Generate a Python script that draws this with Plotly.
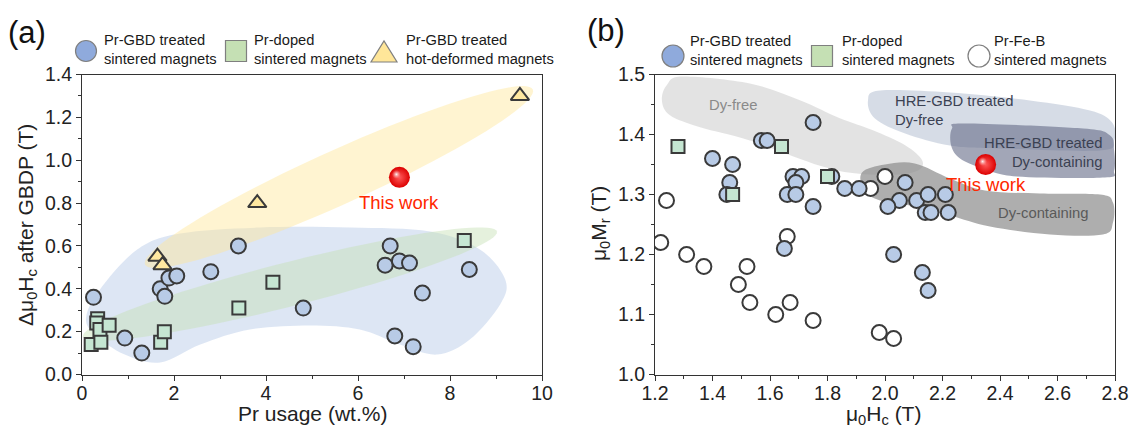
import numpy as np
import plotly.graph_objects as go

W, H = 1131, 437
FONT = "Liberation Sans, Arial, sans-serif"

# ---------------- (a) Pr usage vs. coercivity increment ----------------
gbd_pr = [0.25, 0.93, 1.30, 1.70, 1.80, 1.89, 2.06, 2.80, 3.40, 4.81,
          6.59, 6.70, 6.90, 7.12, 6.80, 7.20, 7.40, 8.42]
gbd_dhc = [0.36, 0.17, 0.10, 0.40, 0.365, 0.45, 0.46, 0.48, 0.60, 0.31,
           0.51, 0.60, 0.53, 0.52, 0.18, 0.13, 0.38, 0.49]
dop_pr = [0.20, 0.34, 0.32, 0.39, 0.41, 0.59, 1.71, 1.79, 3.41, 4.15, 8.31]
dop_dhc = [0.14, 0.26, 0.24, 0.21, 0.15, 0.23, 0.15, 0.20, 0.31, 0.43, 0.625]
hd_pr = [1.64, 1.75, 3.81, 9.52]
hd_dhc = [0.55, 0.51, 0.80, 1.30]
this_pr = [6.90]
this_dhc = [0.92]

# ---------------- (b) coercivity vs. remanence ----------------
gbd_hc = [1.75, 1.57, 1.59, 1.40, 1.47, 1.46, 1.45, 1.68, 1.71, 1.69, 1.66, 1.69,
          1.75, 1.815, 1.86, 1.91, 2.07, 2.05, 2.01, 2.11, 2.15, 2.21, 2.14, 2.16,
          2.22, 1.65, 2.03, 2.13, 2.15]
gbd_mr = [1.42, 1.39, 1.39, 1.36, 1.35, 1.32, 1.30, 1.33, 1.33, 1.32, 1.30, 1.30,
          1.28, 1.33, 1.31, 1.31, 1.32, 1.29, 1.28, 1.29, 1.30, 1.30, 1.27, 1.27,
          1.27, 1.21, 1.20, 1.17, 1.14]
dop_hc = [1.28, 1.64, 1.80, 1.47]
dop_mr = [1.38, 1.38, 1.33, 1.30]
ref_hc = [1.24, 1.22, 1.66, 2.00, 1.95, 1.31, 1.37, 1.49, 1.52, 1.53, 1.67, 1.62,
          1.75, 1.98, 2.03]
ref_mr = [1.29, 1.22, 1.23, 1.33, 1.31, 1.20, 1.18, 1.15, 1.18, 1.12, 1.12, 1.10,
          1.09, 1.07, 1.06]
this_hc = [2.35]
this_mr = [1.35]

# axis ranges and placement
XA_RANGE, YA_RANGE = [0, 10], [0, 1.4]
XB_RANGE, YB_RANGE = [1.2, 2.8], [1.0, 1.5]
XA_DOM = [82 / W, 542 / W]
XB_DOM = [655 / W, 1115 / W]
Y_DOM = [62.5 / H, 362.5 / H]

def px_scale(rng, dom, size):
    return (dom[1] - dom[0]) * size / (rng[1] - rng[0])

SXA, SYA = px_scale(XA_RANGE, XA_DOM, W), px_scale(YA_RANGE, Y_DOM, H)
SXB, SYB = px_scale(XB_RANGE, XB_DOM, W), px_scale(YB_RANGE, Y_DOM, H)


def ellipse_path(p0, p1, half_w, sx, sy, n=90):
    """Ellipse between two data-space end points, half width in pixels."""
    a0 = np.array([p0[0] * sx, p0[1] * sy])
    a1 = np.array([p1[0] * sx, p1[1] * sy])
    c = (a0 + a1) / 2
    d = a1 - a0
    a = np.linalg.norm(d) / 2
    u = d / np.linalg.norm(d)
    v = np.array([-u[1], u[0]])
    t = np.linspace(0, 2 * np.pi, n, endpoint=False)
    pts = c[None, :] + np.outer(a * np.cos(t), u) + np.outer(half_w * np.sin(t), v)
    xs, ys = pts[:, 0] / sx, pts[:, 1] / sy
    return "M " + " L ".join(f"{x:.4f},{y:.4f}" for x, y in zip(xs, ys)) + " Z"


def smooth_path(xs, ys):
    """Closed Catmull-Rom curve through outline points, as an SVG path."""
    n = len(xs)
    P = list(zip(xs, ys))
    s = f"M {P[0][0]:.4f},{P[0][1]:.4f}"
    for i in range(n):
        p0, p1, p2, p3 = P[(i - 1) % n], P[i], P[(i + 1) % n], P[(i + 2) % n]
        c1 = (p1[0] + (p2[0] - p0[0]) / 6, p1[1] + (p2[1] - p0[1]) / 6)
        c2 = (p2[0] - (p3[0] - p1[0]) / 6, p2[1] - (p3[1] - p1[1]) / 6)
        s += f" C {c1[0]:.4f},{c1[1]:.4f} {c2[0]:.4f},{c2[1]:.4f} {p2[0]:.4f},{p2[1]:.4f}"
    return s + " Z"


# region outlines
blue_x = [0.09, 0.39, 1.20, 2.13, 3.87, 5.83, 7.57, 8.65, 9.20, 9.09, 8.43, 7.72,
          6.91, 6.04, 4.96, 3.65, 2.57, 1.70, 0.93, 0.28]
blue_y = [0.266, 0.397, 0.583, 0.658, 0.686, 0.686, 0.667, 0.583, 0.443, 0.327,
          0.163, 0.093, 0.14, 0.21, 0.229, 0.21, 0.14, 0.056, 0.093, 0.187]

dyfree_x = [1.297, 1.530, 1.704, 1.843, 1.958, 2.070, 2.129, 2.115, 2.035, 1.903,
            1.774, 1.530, 1.357, 1.252, 1.224, 1.242]
dyfree_y = [1.4967, 1.485, 1.457, 1.427, 1.407, 1.382, 1.357, 1.34, 1.333, 1.335,
            1.348, 1.39, 1.412, 1.432, 1.457, 1.483]
dycont_x = [1.920, 2.000, 2.104, 2.226, 2.348, 2.539, 2.748, 2.793, 2.793, 2.758,
            2.574, 2.365, 2.226, 2.087, 1.983, 1.927]
dycont_y = [1.3367, 1.350, 1.3517, 1.3267, 1.3067, 1.3017, 1.300, 1.2867, 1.2533,
            1.2333, 1.2333, 1.2467, 1.265, 1.2817, 1.29, 1.3067]
hre_free_x = [1.941, 1.983, 2.226, 2.504, 2.713, 2.790, 2.797, 2.748, 2.400, 2.226,
              2.070, 1.965]
hre_free_y = [1.4567, 1.4733, 1.470, 1.4567, 1.440, 1.420, 1.390, 1.3733, 1.3767,
              1.3817, 1.4017, 1.4267]
hre_cont_x = [2.233, 2.278, 2.689, 2.783, 2.797, 2.797, 2.765, 2.459, 2.341, 2.261,
              2.230]
hre_cont_y = [1.410, 1.4183, 1.410, 1.3983, 1.3733, 1.340, 1.3283, 1.330, 1.3433,
              1.360, 1.3817]

fig = go.Figure()

shapes = [
    dict(type="path", xref="x", yref="y", path=smooth_path(blue_x, blue_y),
         fillcolor="rgb(180,199,231)", opacity=0.45, line=dict(width=0), layer="below"),
    dict(type="path", xref="x", yref="y",
         path=ellipse_path((0.02, 0.177), (9.02, 0.667), 22, SXA, SYA),
         fillcolor="rgb(197,224,180)", opacity=0.45, line=dict(width=0), layer="below"),
    dict(type="path", xref="x", yref="y",
         path=ellipse_path((1.37, 0.513), (9.80, 1.33), 27, SXA, SYA),
         fillcolor="rgb(255,230,153)", opacity=0.45, line=dict(width=0), layer="below"),
    dict(type="path", xref="x2", yref="y2", path=smooth_path(dyfree_x, dyfree_y),
         fillcolor="rgb(200,200,200)", opacity=0.5, line=dict(width=0), layer="below"),
    dict(type="path", xref="x2", yref="y2", path=smooth_path(dycont_x, dycont_y),
         fillcolor="rgb(140,140,140)", opacity=0.7, line=dict(width=0), layer="below"),
    dict(type="path", xref="x2", yref="y2", path=smooth_path(hre_free_x, hre_free_y),
         fillcolor="rgb(180,192,210)", opacity=0.55, line=dict(width=0), layer="below"),
    dict(type="path", xref="x2", yref="y2", path=smooth_path(hre_cont_x, hre_cont_y),
         fillcolor="rgb(100,106,135)", opacity=0.6, line=dict(width=0), layer="below"),
]

EDGE = dict(color="#3a3a3a", width=2)
BLUE = "rgb(184,203,230)"
GREEN = "rgb(197,230,210)"
YELLOW = "rgb(255,232,160)"


def sphere(x, y, xa, ya, sx, sy):
    # red glossy ball with a small highlight up-left of centre
    fig.add_trace(go.Scatter(
        x=x, y=y, xaxis=xa, yaxis=ya, mode="markers", hoverinfo="skip",
        marker=dict(size=21, color="rgb(220,0,0)", line=dict(width=0),
                    gradient=dict(type="radial", color="rgb(255,90,90)"))))
    fig.add_trace(go.Scatter(
        x=[v - 3 / sx for v in x], y=[v + 3 / sy for v in y], xaxis=xa, yaxis=ya,
        mode="markers", hoverinfo="skip",
        marker=dict(size=9, color="rgba(255,170,170,0)", line=dict(width=0),
                    gradient=dict(type="radial", color="rgba(255,255,255,0.95)"))))


# (a) markers
fig.add_trace(go.Scatter(x=gbd_pr, y=gbd_dhc, mode="markers", xaxis="x", yaxis="y",
                         marker=dict(symbol="circle", size=15, color=BLUE, line=EDGE)))
fig.add_trace(go.Scatter(x=dop_pr, y=dop_dhc, mode="markers", xaxis="x", yaxis="y",
                         marker=dict(symbol="square", size=13, color=GREEN, line=EDGE)))
fig.add_trace(go.Scatter(x=hd_pr, y=hd_dhc, mode="markers", xaxis="x", yaxis="y",
                         marker=dict(symbol="triangle-up", size=16, color=YELLOW, line=EDGE)))
sphere(this_pr, this_dhc, "x", "y", SXA, SYA)

# (b) markers
fig.add_trace(go.Scatter(x=ref_hc, y=ref_mr, mode="markers", xaxis="x2", yaxis="y2",
                         marker=dict(symbol="circle", size=15, color="white", line=EDGE)))
fig.add_trace(go.Scatter(x=gbd_hc, y=gbd_mr, mode="markers", xaxis="x2", yaxis="y2",
                         marker=dict(symbol="circle", size=15, color=BLUE, line=EDGE)))
fig.add_trace(go.Scatter(x=dop_hc, y=dop_mr, mode="markers", xaxis="x2", yaxis="y2",
                         marker=dict(symbol="square", size=13, color=GREEN, line=EDGE)))
sphere(this_hc, this_mr, "x2", "y2", SXB, SYB)

# legend glyphs drawn in pixel positions
def px(x):
    return x / W

def py(y):
    return 1 - y / H

LEG_EDGE = dict(color="#7f7f7f", width=1.2)
legend_glyphs = [
    dict(type="circle", x0=px(75.5), x1=px(96.5), y0=py(61.5), y1=py(40.5),
         fillcolor="rgb(143,170,220)"),
    dict(type="rect", x0=px(225.5), x1=px(246.5), y0=py(61.5), y1=py(40.5),
         fillcolor="rgb(197,224,180)"),
    dict(type="path", path=f"M {px(371)},{py(62)} L {px(397)},{py(62)} L {px(384)},{py(41)} Z",
         fillcolor="rgb(255,230,153)"),
    dict(type="circle", x0=px(662), x1=px(684), y0=py(67), y1=py(45),
         fillcolor="rgb(143,170,220)"),
    dict(type="rect", x0=px(811.5), x1=px(832.5), y0=py(66.5), y1=py(45.5),
         fillcolor="rgb(197,224,180)"),
    dict(type="circle", x0=px(968), x1=px(990), y0=py(67), y1=py(45),
         fillcolor="white"),
]
for g in legend_glyphs:
    g.update(xref="paper", yref="paper", line=LEG_EDGE)
    shapes.append(g)

annotations = []

def text(x, y, s, size=14, color="#1a1a1a", xanchor="left", align="left", angle=0,
         xref="paper", yref="paper"):
    annotations.append(dict(
        x=x, y=y, xref=xref, yref=yref, text=s, showarrow=False, xanchor=xanchor,
        yanchor="middle", align=align, textangle=angle,
        font=dict(family=FONT, size=size, color=color)))

LEG = 14.7
text(px(102), py(50), "Pr-GBD treated<br>sintered magnets", LEG)
text(px(252), py(50), "Pr-doped<br>sintered magnets", LEG)
text(px(404), py(50), "Pr-GBD treated<br>hot-deformed magnets", LEG)
text(px(688), py(51), "Pr-GBD treated<br>sintered magnets", LEG)
text(px(840), py(51), "Pr-doped<br>sintered magnets", LEG)
text(px(992), py(51), "Pr-Fe-B<br>sintered magnets", LEG)

text(px(6), py(33), "(a)", 31, "#111")
text(px(585), py(31), "(b)", 31, "#111")

TT = 21
text(px(312), py(413), "Pr usage (wt.%)", TT, "#222", "center")
text(px(27), py(225), "Δμ<sub>0</sub>H<sub>c</sub> after GBDP (T)", TT, "#222", "center",
     angle=-90)
text(px(883), py(415), "μ<sub>0</sub>H<sub>c</sub> (T)", TT, "#222", "center")
text(px(600), py(224), "μ<sub>0</sub>M<sub>r</sub> (T)", TT, "#222", "center", angle=-90)

text(px(399), py(202), "This work", 18.5, "rgb(255,40,0)", "center")
text(px(986), py(184), "This work", 18.5, "rgb(255,40,0)", "center")

RT = 14.8
text(px(733), py(105), "Dy-free", RT, "#8a8a8a", "center")
text(px(893), py(111), "HRE-GBD treated<br>Dy-free", RT, "#3b4152")
text(px(1104), py(152), "HRE-GBD treated<br>Dy-containing", RT, "#3b4152",
     "right", "right")
text(px(1043), py(213), "Dy-containing", RT, "#5a5a5a", "center")

axis_common = dict(
    showline=True, linecolor="#333", linewidth=1, mirror=True,
    ticks="outside", ticklen=5, tickwidth=1, tickcolor="#333",
    showgrid=False, zeroline=False, automargin=False,
    tickfont=dict(family=FONT, size=19.5, color="#222"),
)

fig.update_layout(
    template="none",
    width=W, height=H, margin=dict(l=0, r=0, t=0, b=0, autoexpand=False),
    paper_bgcolor="white", plot_bgcolor="white", showlegend=False,
    shapes=shapes, annotations=annotations,
    xaxis=dict(domain=XA_DOM, range=XA_RANGE, dtick=2, anchor="y", ticklabelstandoff=-4,
               minor=dict(dtick=1, ticks="outside", ticklen=3, tickcolor="#333"),
               **axis_common),
    yaxis=dict(domain=Y_DOM, range=YA_RANGE, dtick=0.2, tickformat=".1f", anchor="x",
               minor=dict(dtick=0.1, ticks="outside", ticklen=3, tickcolor="#333"),
               **axis_common),
    xaxis2=dict(domain=XB_DOM, range=XB_RANGE, dtick=0.2, tickformat=".1f", anchor="y2",
                ticklabelstandoff=-4,
                minor=dict(dtick=0.1, ticks="outside", ticklen=3, tickcolor="#333"),
                **axis_common),
    yaxis2=dict(domain=Y_DOM, range=YB_RANGE, dtick=0.1, tickformat=".1f", anchor="x2",
                minor=dict(dtick=0.05, ticks="outside", ticklen=3, tickcolor="#333"),
                **axis_common),
)

fig.write_html("out.html")
